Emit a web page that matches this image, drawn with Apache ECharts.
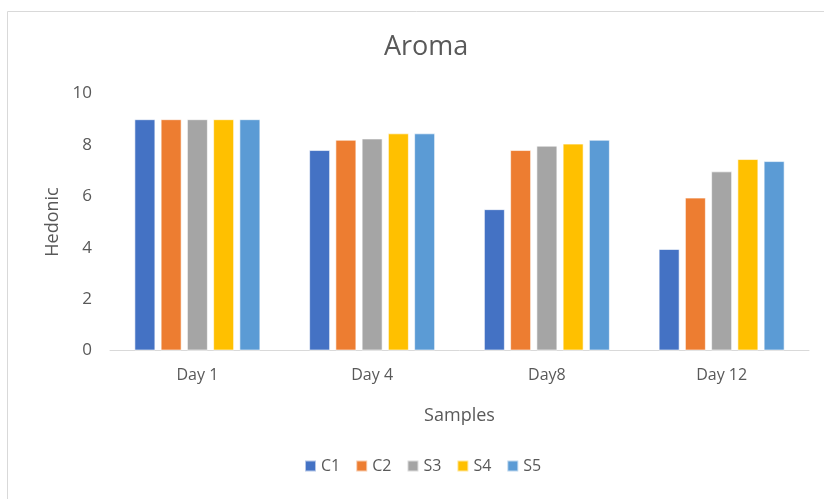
<!DOCTYPE html>
<html>
<head>
<meta charset="utf-8">
<script src="https://cdn.jsdelivr.net/npm/echarts@6/dist/echarts.min.js"></script>
<style>
html,body{margin:0;padding:0;background:#fff;}
#main{width:824px;height:499px;}
</style>
</head>
<body>
<div id="main"></div>
<script>
// data
var days = ['Day 1', 'Day 4', 'Day8', 'Day 12'];
var c1 = [9, 7.8, 5.5, 3.95];
var c2 = [9, 8.2, 7.8, 5.95];
var s3 = [9, 8.25, 7.97, 6.97];
var s4 = [9, 8.45, 8.05, 7.45];
var s5 = [9, 8.45, 8.2, 7.37];
var yTicks = [0, 2, 4, 6, 8, 10];

var font = 'Open Sans';
function bar(name, data){
    return {
        name: name,
        type: 'bar',
        barWidth: 21,
        barGap: '25%',
        itemStyle: { borderColor: 'rgba(255,255,255,0.6)', borderWidth: 1 },
        data: data
    };
}

var option = {
    color: ['#4472C4', '#ED7D31', '#A5A5A5', '#FFC000', '#5B9BD5'],
    textStyle: { fontFamily: font },
    title: {
        text: 'Aroma',
        left: 379,
        top: 29,
        textStyle: { fontFamily: font, fontSize: 27, fontWeight: 'normal', color: '#595959' }
    },
    graphic: [{
        type: 'rect',
        shape: { x: 7.5, y: 11.5, width: 840, height: 520 },
        style: { fill: 'none', stroke: '#d9d9d9', lineWidth: 1 },
        silent: true
    }],
    legend: {
        bottom: 20,
        left: 299,
        itemWidth: 11,
        itemHeight: 11,
        itemGap: 15,
        icon: 'rect',
        textStyle: { fontFamily: font, fontSize: 16, color: '#595959' },
        data: ['C1', 'C2', 'S3', 'S4', 'S5']
    },
    grid: { left: 110, right: 15, top: 93.5, bottom: 148.5 },
    xAxis: {
        type: 'category',
        data: days,
        name: 'Samples',
        nameLocation: 'middle',
        nameGap: 56,
        nameTextStyle: { fontFamily: font, fontSize: 18, color: '#595959' },
        axisLine: { lineStyle: { color: '#d9d9d9', width: 1 } },
        axisTick: { show: false },
        axisLabel: { margin: 17, fontSize: 16, color: '#595959', fontFamily: font }
    },
    yAxis: {
        type: 'value',
        min: yTicks[0],
        max: yTicks[yTicks.length - 1],
        interval: 2,
        name: 'Hedonic',
        nameLocation: 'middle',
        nameGap: 48,
        nameTextStyle: { fontFamily: font, fontSize: 18, color: '#595959' },
        axisLine: { show: false },
        axisTick: { show: false },
        splitLine: { show: false },
        axisLabel: { margin: 18, fontSize: 17, color: '#595959', fontFamily: font }
    },
    series: [
        bar('C1', c1),
        bar('C2', c2),
        bar('S3', s3),
        bar('S4', s4),
        bar('S5', s5)
    ]
};

echarts.init(document.getElementById('main')).setOption(option);
</script>
</body>
</html>
